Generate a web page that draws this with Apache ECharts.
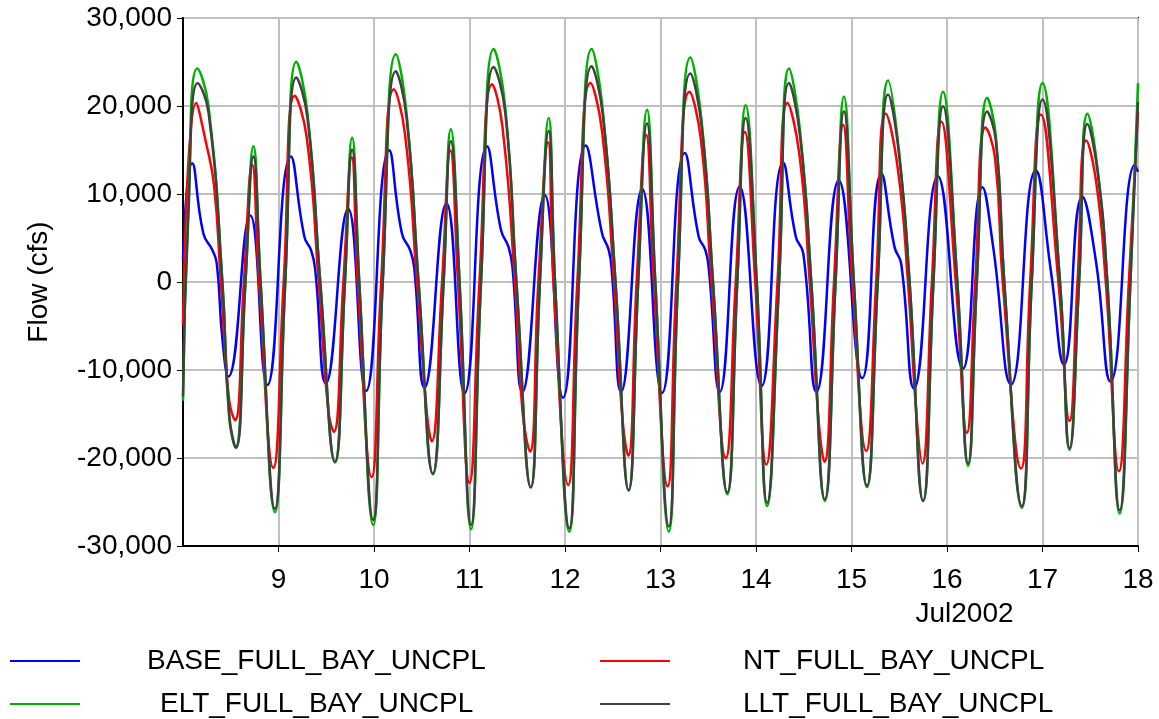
<!DOCTYPE html>
<html>
<head>
<meta charset="utf-8">
<script src="https://cdn.jsdelivr.net/npm/echarts@6/dist/echarts.min.js"></script>
<style>
html,body{margin:0;padding:0;background:#fff;}
#chart{width:1159px;height:719px;}
</style>
</head>
<body>
<div id="chart"></div>
<script>
// Hours after Jul 8 2002 00:00, flow in cfs
const seriesNames = ['BASE_FULL_BAY_UNCPL', 'NT_FULL_BAY_UNCPL', 'ELT_FULL_BAY_UNCPL', 'LLT_FULL_BAY_UNCPL'];
const xTickDays = [8, 9, 10, 11, 12, 13, 14, 15, 16, 17, 18];
const monthLabel = 'Jul2002';

const basePts = [
[0,2500],[2.3,13490],[5.1,5540],[7.4,3600],[8.5,2050],[9.9,-6470],[11.4,-10740],[16.9,7560],[21.2,-11700],
[27.1,14260],[30.5,5150],[32.2,3600],[33.2,1500],[35.9,-11510],[41.5,8330],[46.0,-12400],
[51.8,14960],[55.0,5540],[57.1,3600],[58.1,1670],[60.7,-12020],[66.2,8950],[70.75,-12670],
[76.4,15430],[79.9,5930],[81.8,3990],[82.8,1670],[85.3,-12480],[90.9,9880],[95.5,-13140],
[101.2,15500],[105.3,5540],[107.0,3600],[107.8,1000],[110.1,-12480],[115.4,10580],[120.4,-12600],
[126.1,14650],[129.6,5150],[131.3,3600],[132.2,1200],[134.9,-12480],[139.9,10850],[145.4,-11820],
[150.8,13570],[154.0,5150],[155.9,3220],[159.2,-12480],[164.8,11550],[170.7,-10930],
[175.5,12330],[178.8,3990],[180.5,2050],[183.7,-12090],[189.7,12020],[196.0,-9850],
[200.9,10780],[203.6,3990],[208.1,-11630],[214.3,12710],[218.1,1280],[221.4,-9380],
[226.0,9690],[229.4,2440],[233.1,-11320],[239.2,13290],[240,12520]
];

const ntPts = [
[0,-4900],[3.3,20350],
[5.7,16000],[7.8,10970],[9.5,0],[11.6,-13450],[13.1,-15700],[15.3,0],[17.4,13290],[19.1,0],[22.7,-21120],[25.3,0],[28.1,21160],
[31.1,16400],[34.1,0],[36.5,-14610],[37.9,-17020],[40.3,0],[42.4,14150],[43.9,0],[47.4,-22170],[49.8,0],[53.0,21900],
[55.8,16780],[58.8,0],[61.3,-15000],[62.5,-18100],[65.1,0],[67.2,14950],[69.1,0],[72.0,-22830],[74.5,0],[77.7,22480],
[80.3,17560],[83.4,0],[85.3,-14610],[87.2,-19260],[89.3,0],[91.75,15890],[93.1,0],[96.8,-23060],[99.1,0],[102.4,22600],
[105.3,17170],[108.3,0],[110.4,-15390],[111.9,-19730],[114.0,0],[116.4,16700],[118.3,0],[121.8,-23220],[124.0,0],[127.3,21630],
[130.2,16000],[132.8,0],[136.4,-20000],[138.9,0],[141.2,17050],[143.8,0],[146.6,-20740],[149.4,0],[151.9,20350],
[154.9,14500],[157.5,0],[159.8,-16160],[161.2,-20430],[163.6,0],[165.9,17830],[168.2,0],[171.7,-19190],[174.2,0],[176.6,19110],
[179.6,13000],[182.2,0],[184.3,-15000],[185.8,-20620],[188.2,0],[190.6,18220],[194.2,0],[197.0,-17130],[199.1,0],[201.7,17560],
[204.1,14000],[206.0,0],[210.6,-21200],[212.9,0],[215.6,19030],[220.0,0],[222.8,-15780],[224.8,0],[227.0,16090],
[229.6,11000],[231.9,0],[235.2,-21510],[237.7,0],[240,19300]
];

const eltPts = [
[0,-13500],[1.3,8000],[3.6,24260],[6.4,20000],
[9.9,0],[11.6,-15380],[13.2,-18800],[15.7,0],[17.7,15430],[19.5,0],[23.1,-26160],[25.7,0],[28.5,25040],
[31.3,19100],[34.5,0],[38.2,-20500],[40.7,0],[42.5,16400],[44.3,0],[47.8,-27600],[50.2,0],[53.5,25890],
[56.2,19100],[59.2,0],[62.8,-21860],[65.5,0],[67.3,17360],[69.5,0],[72.4,-28100],[74.9,0],[78.1,26470],
[81.0,19800],[83.8,0],[87.4,-23330],[89.7,0],[91.9,18640],[93.5,0],[97.1,-28370],[99.5,0],[102.7,26470],
[105.5,19500],[108.7,0],[112.0,-23720],[114.4,0],[116.6,19570],[118.7,0],[122.1,-28370],[124.4,0],[127.5,25500],
[130.4,18000],[133.2,0],[136.8,-24110],[139.3,0],[141.4,20080],[144.2,0],[146.8,-25460],[149.8,0],[152.3,24260],
[155.1,17000],[157.9,0],[161.3,-24880],[164.0,0],[166.1,21050],[168.6,0],[171.9,-23330],[174.6,0],[177.2,22910],
[179.9,15000],[182.6,0],[186.0,-24880],[188.6,0],[191.0,21630],[194.6,0],[197.3,-20890],[199.5,0],[202.1,20930],
[204.3,16500],[206.4,0],[210.8,-25660],[213.3,0],[216.0,22600],[220.4,0],[222.8,-19070],[225.2,0],[227.3,19110],
[229.8,13000],[232.3,0],[235.4,-26320],[238.1,0],[240,22600]
];

const lltPts = [
[0,-13000],[1.3,7000],[3.7,22580],[6.4,19300],
[9.9,0],[11.6,-15000],[13.3,-18830],[15.7,0],[17.7,14260],[19.5,0],[23.1,-25780],[25.7,0],[28.5,23240],
[31.3,18600],[34.5,0],[38.2,-20430],[40.7,0],[42.5,15040],[44.3,0],[47.8,-27020],[50.2,0],[53.5,23950],
[56.2,18600],[59.2,0],[62.8,-21780],[65.5,0],[67.3,16000],[69.5,0],[72.4,-27600],[74.9,0],[78.1,24420],
[81.0,19200],[83.8,0],[87.4,-23330],[89.7,0],[91.9,17170],[93.5,0],[97.1,-27990],[99.5,0],[102.7,24530],
[105.5,19000],[108.7,0],[112.0,-23640],[114.4,0],[116.6,18020],[118.7,0],[122.1,-27790],[124.4,0],[127.5,23680],
[130.4,17500],[133.2,0],[136.8,-23910],[139.3,0],[141.4,18640],[144.2,0],[146.8,-25080],[149.8,0],[152.3,22600],
[155.1,16500],[157.9,0],[161.3,-24690],[164.0,0],[166.1,19380],[168.6,0],[171.9,-23140],[174.6,0],[177.2,21320],
[179.9,14700],[182.6,0],[186.0,-24880],[188.6,0],[191.0,19960],[194.6,0],[197.3,-20620],[199.5,0],[202.1,19380],
[204.3,16000],[206.4,0],[210.8,-25460],[213.3,0],[216.0,20740],[220.4,0],[222.8,-18880],[225.2,0],[227.3,17950],
[229.8,12700],[232.3,0],[235.4,-25930],[238.1,0],[240,20470]
];

const yTicks = [-30000, -20000, -10000, 0, 10000, 20000, 30000];

const colors = ['#0000ff', '#ff0000', '#00b000', '#404040'];
const allData = [basePts, ntPts, eltPts, lltPts];
const FONT = "'Liberation Sans', Arial, sans-serif";

const chart = echarts.init(document.getElementById('chart'), null, {renderer: 'canvas'});

function legendItem(i, left, top, padLeft) {
  return {
    data: [seriesNames[i]],
    left: left, top: top,
    orient: 'horizontal',
    icon: 'rect',
    itemWidth: 70, itemHeight: 2,
    selectedMode: false,
    padding: 0,
    textStyle: {fontFamily: FONT, fontSize: 28, color: '#000', padding: [0, 0, 0, padLeft]}
  };
}

chart.setOption({
  animation: false,
  backgroundColor: '#fff',
  color: colors,
  grid: {left: 183, right: 21, top: 18, bottom: 173, show: true, borderColor: '#000', borderWidth: 2, containLabel: false},
  legend: [
    legendItem(0, 10, 647, 62),
    legendItem(1, 600, 647, 68),
    legendItem(2, 10, 690, 75),
    legendItem(3, 600, 690, 68)
  ],
  xAxis: {
    type: 'value', min: 0, max: 240, interval: 24,
    name: monthLabel, nameLocation: 'middle', nameGap: 54,
    nameTextStyle: {fontFamily: FONT, fontSize: 28, color: '#000', padding: [0, 0, 0, 608]},
    axisLine: {show: true, onZero: false, lineStyle: {color: '#000', width: 2}},
    axisTick: {show: true, length: 6, lineStyle: {color: '#000', width: 1}},
    axisLabel: {
      fontFamily: FONT, fontSize: 28, color: '#000', margin: 20, showMinLabel: false,
      formatter: function (v) { return String(xTickDays[Math.round(v / 24)]); }
    },
    splitLine: {show: true, lineStyle: {color: '#c0c0c0', width: 2}}
  },
  yAxis: {
    type: 'value', min: yTicks[0], max: yTicks[yTicks.length - 1], interval: 10000,
    name: 'Flow (cfs)', nameLocation: 'middle', nameGap: 130, nameRotate: 90,
    nameTextStyle: {fontFamily: FONT, fontSize: 28, color: '#000'},
    axisLine: {show: true, onZero: false, lineStyle: {color: '#000', width: 2}},
    axisTick: {show: true, length: 6, lineStyle: {color: '#000', width: 1}},
    axisLabel: {
      fontFamily: FONT, fontSize: 28, color: '#000', margin: 11,
      formatter: function (v) { return v.toLocaleString('en-US'); }
    },
    splitLine: {show: true, lineStyle: {color: '#c0c0c0', width: 2}}
  },
  series: allData.map(function (d, i) {
    return {
      name: seriesNames[i], type: 'line', data: d,
      showSymbol: false, symbol: 'none',
      smooth: 0.5,
      lineStyle: {width: 2.5, color: colors[i]},
      itemStyle: {color: colors[i]},
      z: 2 + i
    };
  })
});
</script>
</body>
</html>
